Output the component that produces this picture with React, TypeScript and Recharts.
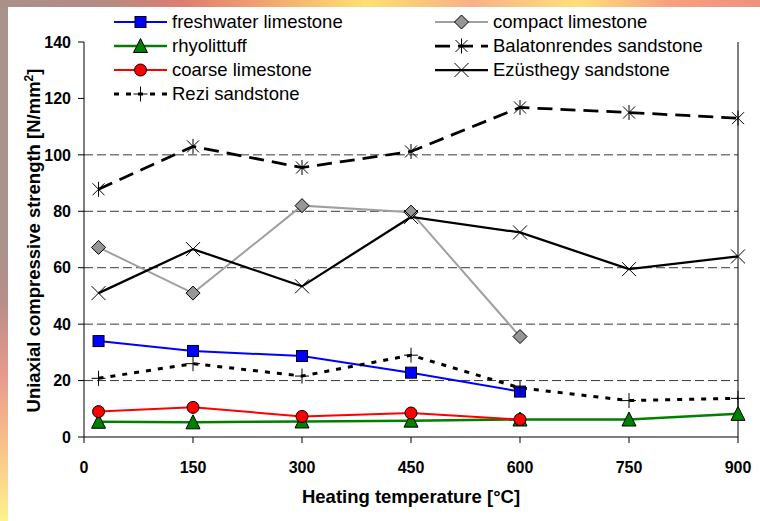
import React from 'react';
import { LineChart, Line, XAxis, YAxis, CartesianGrid, Legend, Label } from 'recharts';

// ---- data ----
const temperatures = [20, 150, 300, 450, 600, 750, 900];
const xTicks = [0, 150, 300, 450, 600, 750, 900];
const yTicks = [0, 20, 40, 60, 80, 100, 120, 140];
const gridValues = [20, 40, 60, 80, 100];

const freshwaterLimestone = [34.0, 30.5, 28.7, 22.8, 16.1];
const compactLimestone = [67.2, 51.0, 82.0, 79.7, 35.6];
const rhyolittuff = [5.4, 5.2, 5.5, 5.8, 6.2, 6.2, 8.2];
const balatonrendesSandstone = [87.8, 103.0, 95.5, 101.2, 116.8, 115.0, 113.0];
const coarseLimestone = [9.0, 10.5, 7.3, 8.5, 6.2];
const ezusthegySandstone = [51.0, 66.6, 53.4, 78.0, 72.5, 59.5, 64.0];
const reziSandstone = [20.8, 26.0, 21.6, 29.0, 17.4, 12.9, 13.7];

const FONT = '"Liberation Sans", Arial, Helvetica, sans-serif';

type Series = {
  key: string;
  name: string;
  values: number[];
  color: string;
  width: number;
  dash?: string;
  marker: string;
};

const series: Series[] = [
  { key: 'fw', name: 'freshwater limestone', values: freshwaterLimestone, color: '#0000ff', width: 2, marker: 'square' },
  { key: 'cl', name: 'compact limestone', values: compactLimestone, color: '#a0a0a0', width: 2, marker: 'diamond' },
  { key: 'rt', name: 'rhyolittuff', values: rhyolittuff, color: '#008000', width: 2.5, marker: 'triangle' },
  { key: 'bs', name: 'Balatonrendes sandstone', values: balatonrendesSandstone, color: '#000000', width: 2.75, dash: '15 8', marker: 'asterisk' },
  { key: 'co', name: 'coarse limestone', values: coarseLimestone, color: '#ff0000', width: 2, marker: 'circle' },
  { key: 'es', name: 'Ezüsthegy sandstone', values: ezusthegySandstone, color: '#000000', width: 2.25, marker: 'cross' },
  { key: 'rs', name: 'Rezi sandstone', values: reziSandstone, color: '#000000', width: 3, dash: '5 7', marker: 'plus' },
];

const data = temperatures.map((t, i) => {
  const row: Record<string, number | null> = { t };
  series.forEach((s) => {
    row[s.key] = i < s.values.length ? s.values[i] : null;
  });
  return row;
});

function MarkerShape({ kind, cx, cy }: { kind: string; cx: number; cy: number }) {
  switch (kind) {
    case 'square':
      return <rect x={cx - 5.5} y={cy - 5.5} width={11} height={11} fill="#0000ff" stroke="#000" strokeWidth={1} />;
    case 'diamond':
      return (
        <polygon
          points={`${cx},${cy - 7} ${cx + 7},${cy} ${cx},${cy + 7} ${cx - 7},${cy}`}
          fill="#969696"
          stroke="#000"
          strokeWidth={1}
        />
      );
    case 'triangle':
      return (
        <polygon
          points={`${cx},${cy - 7.5} ${cx + 7},${cy + 6.5} ${cx - 7},${cy + 6.5}`}
          fill="#008000"
          stroke="#000"
          strokeWidth={1}
        />
      );
    case 'circle':
      return <circle cx={cx} cy={cy} r={6} fill="#ff0000" stroke="#000" strokeWidth={1} />;
    case 'asterisk':
      return (
        <path
          d={`M${cx - 6},${cy - 6}L${cx + 6},${cy + 6}M${cx + 6},${cy - 6}L${cx - 6},${cy + 6}M${cx},${cy - 7.5}L${cx},${cy + 7.5}`}
          stroke="#000"
          strokeWidth={1}
          fill="none"
        />
      );
    case 'cross':
      return (
        <path
          d={`M${cx - 7},${cy - 7}L${cx + 7},${cy + 7}M${cx + 7},${cy - 7}L${cx - 7},${cy + 7}`}
          stroke="#000"
          strokeWidth={1}
          fill="none"
        />
      );
    case 'plus':
      return (
        <path
          d={`M${cx - 7},${cy}L${cx + 7},${cy}M${cx},${cy - 7.5}L${cx},${cy + 7.5}`}
          stroke="#000"
          strokeWidth={1}
          fill="none"
        />
      );
    default:
      return <g />;
  }
}

const makeDot = (kind: string) => (p: any) => {
  const k = `${kind}-${p.index}`;
  if (p.cx == null || p.cy == null || p.value == null || Number.isNaN(p.cy)) return <g key={k} />;
  return (
    <g key={k}>
      <MarkerShape kind={kind} cx={p.cx} cy={p.cy} />
    </g>
  );
};

// legend layout: two columns, row-major order like the original
const legendCol1 = ['fw', 'rt', 'co', 'rs'];
const legendCol2 = ['cl', 'bs', 'es'];

function LegendBox() {
  const rowY = [15, 39, 63, 87];
  const renderItem = (key: string, row: number, x0: number) => {
    const s = series.find((q) => q.key === key)!;
    const y = rowY[row];
    return (
      <g key={key}>
        <line x1={x0} y1={y} x2={x0 + 53} y2={y} stroke={s.color} strokeWidth={s.width} strokeDasharray={s.dash} />
        <MarkerShape kind={s.marker} cx={x0 + 26.5} cy={y} />
        <text x={x0 + 58} y={y} dy="0.35em" fontFamily={FONT} fontSize={18.5} fill="#000">
          {s.name}
        </text>
      </g>
    );
  };
  return (
    <svg width={652} height={97} style={{ display: 'block' }}>
      {legendCol1.map((k, i) => renderItem(k, i, 29))}
      {legendCol2.map((k, i) => renderItem(k, i, 350))}
    </svg>
  );
}

function YTitle(props: any) {
  const vb = props && props.viewBox && props.viewBox.height ? props.viewBox : { x: 0, y: 35, width: 76, height: 395 };
  const cx = 31.5;
  const cy = vb.y + vb.height / 2 + 1;
  return (
    <text
      x={cx}
      y={cy}
      transform={`rotate(-90, ${cx}, ${cy})`}
      textAnchor="middle"
      fontFamily={FONT}
      fontSize={18.5}
      fontWeight="bold"
      fill="#000"
    >
      <tspan>Uniaxial compressive strength [N/mm</tspan>
      <tspan dy={-7} fontSize={12}>2</tspan>
      <tspan dy={7}>]</tspan>
    </text>
  );
}

export default function App() {
  return (
    <div style={{ position: 'absolute', left: 0, top: 0, width: 760, height: 521, overflow: 'hidden' }}>
      <div
        style={{
          position: 'absolute',
          left: 0,
          top: 0,
          width: 760,
          height: 521,
          background:
            'linear-gradient(to bottom, #a8948c 0%, #a8948c 45%, #b88e8a 58%, #e89a8c 72%, #f8c08a 85%, #fff28c 100%)',
        }}
      />
      <div
        style={{
          position: 'absolute',
          left: 0,
          top: 0,
          width: 760,
          height: 8,
          background:
            'linear-gradient(to right, #a89088 0%, #b88a84 14%, #e07c72 24%, #f0a070 34%, #ffe070 48%, #f8b088 62%, #ffe078 76%, #f8a080 88%, #f09080 100%)',
        }}
      />
      <div style={{ position: 'absolute', left: 8, top: 7, width: 752, height: 514, background: '#ffffff' }}>
        <LineChart
          width={752}
          height={514}
          data={data}
          margin={{ top: 35, right: 22, bottom: 0, left: 0 }}
          style={{ fontFamily: FONT }}
        >
          <CartesianGrid
            vertical={false}
            horizontalValues={gridValues}
            stroke="#383838"
            strokeDasharray="9 4"
            strokeWidth={1}
          />
          <XAxis
            type="number"
            dataKey="t"
            domain={[0, 900]}
            ticks={xTicks}
            interval={0}
            height={84}
            tickSize={6}
            tickMargin={19}
            axisLine={{ stroke: '#000', strokeWidth: 1 }}
            tickLine={{ stroke: '#000', strokeWidth: 1 }}
            tick={{ fill: '#000', fontSize: 16, fontWeight: 'bold', fontFamily: FONT }}
            label={{
              value: 'Heating temperature [°C]',
              position: 'insideBottom',
              offset: 18,
              style: { fill: '#000', fontSize: 18.5, fontWeight: 'bold', fontFamily: FONT, textAnchor: 'middle' },
            }}
          />
          <YAxis
            domain={[0, 140]}
            ticks={yTicks}
            interval={0}
            width={76}
            tickSize={6}
            tickMargin={7}
            axisLine={{ stroke: '#000', strokeWidth: 1 }}
            tickLine={{ stroke: '#000', strokeWidth: 1 }}
            tick={{ fill: '#000', fontSize: 16, fontWeight: 'bold', fontFamily: FONT }}
          >
            <Label content={YTitle} />
          </YAxis>
          <YAxis
            yAxisId="right"
            orientation="right"
            mirror
            domain={[0, 140]}
            ticks={yTicks}
            interval={0}
            width={10}
            tickSize={5}
            tickFormatter={() => ''}
            axisLine={{ stroke: '#000', strokeWidth: 1 }}
            tickLine={{ stroke: '#000', strokeWidth: 1 }}
          />
          {series.map((s) => (
            <Line
              key={s.key}
              type="linear"
              dataKey={s.key}
              name={s.name}
              stroke={s.color}
              strokeWidth={s.width}
              strokeDasharray={s.dash}
              dot={makeDot(s.marker)}
              activeDot={false}
              connectNulls={false}
              isAnimationActive={false}
            />
          ))}
          <Legend
            layout="horizontal"
            verticalAlign="middle"
            align="center"
            content={() => <LegendBox />}
            wrapperStyle={{
              position: 'absolute',
              left: 77,
              top: 0,
              width: 652,
              height: 97,
              margin: 0,
              padding: 0,
            }}
          />
        </LineChart>
      </div>
    </div>
  );
}
